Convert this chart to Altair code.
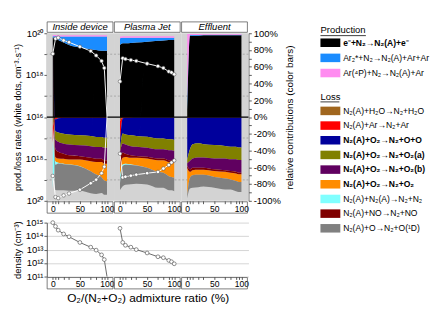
import altair as alt
import pandas as pd

FONT = "Liberation Sans"

# ---------------- data ----------------
PANELS = ["Inside device", "Plasma Jet", "Effluent"]
O2_RATIO = [0, 5, 10, 20, 30, 50, 70, 80, 90, 95, 100]

PROD_NAMES = ["e⁻+N₂→N₂(A)+e⁻", "Ar₂*+N₂→N₂(A)+Ar+Ar", "Ar(⁴P)+N₂→N₂(A)+Ar"]
PROD_COLORS = ["#000000", "#1a8cff", "#ff8cf0"]
PROD_BOLD = [True, False, False]

LOSS_NAMES = ["N₂(A)+H₂O→N₂+H₂O", "N₂(A)+Ar→N₂+Ar", "N₂(A)+O₂→N₂+O+O",
              "N₂(A)+O₂→N₂+O₂(a)", "N₂(A)+O₂→N₂+O₂(b)", "N₂(A)+O₂→N₂+O₂",
              "N₂(A)+N₂(A)→N₂+N₂", "N₂(A)+NO→N₂+NO", "N₂(A)+O→N₂+O(¹D)"]
LOSS_COLORS = ["#a0661e", "#ff0000", "#00009c", "#808000", "#600060",
               "#ff8c00", "#80ffff", "#800000", "#808080"]
LOSS_BOLD = [False, False, True, True, True, True, False, False, False]
# stacking order from 0 % downwards (indices into LOSS_NAMES)
LOSS_STACK = [0, 1, 2, 3, 4, 7, 5, 6, 8]

# relative contributions (%) to N2(A) production
PROD = {
    "Inside device": [
        [95, 94, 92, 89, 86, 83, 81, 80, 79, 79, 79],
        [1.5, 2.5, 4, 7, 10, 13, 15, 16, 17, 17, 17],
        [1.5, 1.5, 1.5, 1.5, 1.5, 1.5, 1.5, 1.5, 1.5, 1.5, 1.5],
    ],
    "Plasma Jet": [
        [86, 88, 88, 88.5, 89, 90, 91, 91.5, 92, 92, 92],
        [8, 6.5, 6.5, 6, 5.5, 4.5, 3.5, 3, 2.5, 2.5, 2.5],
        [2, 2, 2, 2, 2, 2, 2, 2, 2, 2, 2],
    ],
    "Effluent": [
        [8, 97, 97, 97, 97.5, 97.5, 97.5, 97.5, 97.5, 97.5, 97.5],
        [12, 1, 1, 1, 0.8, 0.8, 0.8, 0.8, 0.8, 0.8, 0.8],
        [79, 1, 1, 1, 0.8, 0.8, 0.8, 0.8, 0.8, 0.8, 0.8],
    ],
}
# relative contributions (%) to N2(A) loss (order as LOSS_NAMES)
LOSS = {
    "Inside device": [
        [12, 1, 0.5, 0.3, 0.2, 0.2, 0.2, 0.2, 0.2, 0.2, 0.2],
        [18, 2, 1, 0.5, 0.5, 0.5, 0.5, 0.5, 0.5, 0.5, 0.5],
        [0, 14, 17, 19, 20, 21, 22, 23, 23, 24, 24],
        [0, 10, 11, 12, 12, 12, 12, 12, 12, 12, 12],
        [0, 11, 12, 12, 13, 13, 14, 14, 14, 15, 15],
        [0, 5, 5, 6, 6, 8, 12, 15, 18, 20, 21],
        [55, 4, 1, 0.5, 0.3, 0.2, 0.1, 0, 0, 0, 0],
        [0, 10, 8, 6, 5, 4, 4, 4, 4, 4, 4],
        [0, 30, 32, 31, 31, 29, 26, 23, 19, 17, 16],
    ],
    "Plasma Jet": [
        [5, 0.5, 0.3, 0.2, 0.2, 0.2, 0.2, 0.2, 0.2, 0.2, 0.2],
        [25, 1, 0.5, 0.5, 0.3, 0.3, 0.3, 0.3, 0.3, 0.3, 0.3],
        [8, 18, 20, 21, 22, 23, 25, 25, 26, 26, 27],
        [4, 12, 12, 13, 13, 13, 13, 13, 13, 13, 13],
        [4, 11, 11, 11, 11, 11, 11, 11, 12, 12, 12],
        [10, 8, 8, 8, 9, 11, 14, 15, 17, 18, 18],
        [8, 2, 1, 0.5, 0.2, 0, 0, 0, 0, 0, 0],
        [15, 6, 4, 3, 2, 2, 2, 2, 2, 2, 2],
        [8, 24, 24, 23, 22, 20, 19, 18, 17, 16, 16],
    ],
    "Effluent": [
        [0.5, 0.2, 0.2, 0.2, 0.2, 0.2, 0.2, 0.2, 0.2, 0.2, 0.2],
        [0.5, 0.2, 0.2, 0.2, 0.2, 0.2, 0.2, 0.2, 0.2, 0.2, 0.2],
        [50, 38, 32, 31, 32, 33, 34, 35, 35, 36, 36],
        [4, 14, 17, 17, 16, 16, 15, 15, 15, 15, 15],
        [3, 10, 11, 12, 12, 13, 14, 14, 15, 15, 15],
        [32, 7, 6, 6, 6, 7, 8, 8, 9, 9, 9],
        [0, 0, 0, 0, 0, 0, 0, 0, 0, 0, 0],
        [3, 3, 3, 2.5, 2.5, 2, 2, 2, 2, 2, 2],
        [4, 13, 15, 15, 14, 13, 13, 12, 12, 12, 12],
    ],
}
# log10 of production / loss rates (cm^-3 s^-1); None = no N2(A) (rate 0)
PROD_RATE = {
    "Inside device": [19.02, 19.74, 19.79, 19.66, 19.57, 19.36, 19.15, 18.94, 18.68, 18.34, None],
    "Plasma Jet": [17.70, 18.81, 18.77, 18.72, 18.68, 18.55, 18.43, 18.34, 18.17, 18.13, 18.04],
}
LOSS_RATE = {
    "Inside device": [18.81, 19.82, 19.87, 19.74, 19.65, 19.47, 19.16, 18.99, 18.68, 18.37, None],
    "Plasma Jet": [17.75, 18.88, 18.85, 18.80, 18.75, 18.68, 18.62, 18.46, 18.29, 18.17, 18.07],
}
# log10 of N2(A) density (cm^-3)
DENSITY = {
    "Inside device": [15.0, 14.72, 14.44, 14.16, 13.95, 13.53, 13.18, 12.96, 12.61, 12.26, None],
    "Plasma Jet": [14.58, 13.53, 13.32, 13.18, 13.0, 12.75, 12.47, 12.40, 12.2, 12.1, 11.95],
}

# ---------------- tables ----------------
rows = []
for k, p in enumerate(PANELS):
    for i, name in enumerate(PROD_NAMES):
        for x, v in zip(O2_RATIO, PROD[p][i]):
            rows.append({"k": k, "x": x, "r": name, "ord": i, "v": v})
    for j, name in enumerate(LOSS_NAMES):
        for x, v in zip(O2_RATIO, LOSS[p][j]):
            rows.append({"k": k, "x": x, "r": name, "ord": 10 + LOSS_STACK.index(j), "v": -v})
df_area = pd.DataFrame(rows)

rows = []
for k, p in enumerate(PANELS):
    for kind, src in (("prod", PROD_RATE), ("loss", LOSS_RATE)):
        if p in src:
            for x, lg in zip(O2_RATIO, src[p]):
                rows.append({"k": k, "x": x, "kind": kind, "lg": lg})
df_rate = pd.DataFrame(rows)

rows = []
for k, p in enumerate(PANELS):
    if p in DENSITY:
        for x, lg in zip(O2_RATIO, DENSITY[p]):
            rows.append({"k": k, "x": x, "lg": lg})
df_dens = pd.DataFrame(rows)

df_panel = pd.DataFrame({"k": [0, 1, 2], "panel": PANELS})
df_grid = pd.DataFrame({"lg": [17, 19, 17, 19], "sign": [1, 1, -1, -1]})
df_zero = pd.DataFrame({"lg": [16]})

# ---------------- layout ----------------
W = 213
H_TOP = 177
H_DEN = 57
SPAN = 124   # x units per panel (-11 .. 113)
OFF = 11
GCALC = f"datum.k * {SPAN} + {OFF} + datum.x"

xscale = alt.Scale(domain=[0, 3 * SPAN], nice=False, zero=False)
yscale = alt.Scale(domain=[-100, 100], nice=False)

tick_vals = [k * SPAN + OFF + x for k in range(3) for x in O2_RATIO]
rel = f"((datum.value - {OFF}) % {SPAN})"
xlabel_expr = f"({rel} == 0 || {rel} == 50 || {rel} == 100) ? '' + {rel} : ''"


def xaxis(title=None):
    kw = dict(values=tick_vals, labelExpr=xlabel_expr, grid=False, domain=False,
              tickSize=3, tickColor="#555", labelFontSize=9, labelPadding=1,
              labelOverlap=False, labelFlush=False)
    if title:
        return alt.Axis(title=title, titleFontSize=12.5, titleFontWeight="normal",
                        titlePadding=3, **kw)
    return alt.Axis(title=None, **kw)


XA_TOP = xaxis()

left_axis = alt.Axis(
    title="prod./loss rates (white dots, cm⁻³·s⁻¹)",
    values=[-100, -75, -50, -25, 0, 25, 50, 75, 100],
    labelExpr="datum.value == 0 ? '10¹⁶' : abs(datum.value) == 50 ? '10¹⁸' : abs(datum.value) == 100 ? '10²⁰' : ''",
    grid=False, tickSize=3, labelFontSize=10, labelPadding=1, titleFontSize=9.5,
    titleFontWeight="normal", titlePadding=3, domainColor="#555", tickColor="#555",
    labelOverlap=False, orient="left")

right_axis = alt.Axis(
    title="relative contributions (color bars)",
    values=list(range(-100, 101, 10)),
    labelExpr="datum.value % 20 == 0 ? datum.value + '%' : ''",
    grid=False, tickSize=3, labelFontSize=10, labelPadding=2, titleFontSize=10.5,
    titleFontWeight="normal", titlePadding=5, domainColor="#555", tickColor="#555",
    labelOverlap=False, orient="right", titleAngle=270, titleBaseline="top")

bg = alt.Chart(df_panel).transform_calculate(
    a=f"datum.k * {SPAN}", b=f"(datum.k + 1) * {SPAN}", lo="-100", hi="100"
).mark_rect(color="#d3d3d3").encode(
    x=alt.X("a:Q", scale=xscale, axis=XA_TOP), x2="b:Q",
    y=alt.Y("lo:Q", scale=yscale, axis=None), y2="hi:Q")

grid = alt.Chart(df_grid).transform_calculate(
    gy="(datum.lg - 16) * 25 * datum.sign"
).mark_rule(color="#9a9a9a", strokeDash=[2, 2], strokeWidth=0.8).encode(
    y=alt.Y("gy:Q", scale=yscale, axis=None))

color_scale = alt.Scale(domain=PROD_NAMES + LOSS_NAMES, range=PROD_COLORS + LOSS_COLORS)


def area_layer(k):
    return alt.Chart(df_area).transform_filter(f"datum.k == {k}").transform_calculate(
        g=GCALC).mark_area(interpolate="monotone", strokeWidth=0).encode(
        x=alt.X("g:Q", scale=xscale, axis=XA_TOP),
        y=alt.Y("v:Q", stack="zero", scale=yscale, axis=right_axis if k == 2 else None),
        color=alt.Color("r:N", scale=color_scale, legend=None),
        order=alt.Order("ord:Q"))


areas = [area_layer(k) for k in range(3)]

zero = alt.Chart(df_zero).transform_calculate(zy="(datum.lg - 16) * 25").mark_rule(
    color="black", strokeWidth=1.3).encode(
    y=alt.Y("zy:Q", scale=yscale, axis=None))

rate_base = alt.Chart(df_rate).transform_calculate(
    g=GCALC,
    ser="datum.kind + datum.k",
    pos="(datum.lg == null ? 0 : (datum.lg - 16) * 25) * (datum.kind == 'prod' ? 1 : -1)")

lines = rate_base.mark_line(color="white", strokeWidth=1).encode(
    x=alt.X("g:Q", scale=xscale, axis=XA_TOP),
    y=alt.Y("pos:Q", scale=yscale, axis=left_axis),
    detail="ser:N")

dots = rate_base.transform_filter("isValid(datum.lg)").mark_circle(
    color="white", stroke="#555", strokeWidth=0.6, size=14, opacity=1).encode(
    x=alt.X("g:Q", scale=xscale, axis=XA_TOP),
    y=alt.Y("pos:Q", scale=yscale, axis=None))

panel_box = alt.Chart(df_panel).transform_calculate(
    a=f"datum.k * {SPAN} + 0.6", b=f"(datum.k + 1) * {SPAN} - 2",
    c=f"datum.k * {SPAN} + {SPAN / 2 - 0.7}")

head_rect = panel_box.mark_rect(fill="white", stroke="#555", strokeWidth=0.8).encode(
    x=alt.X("a:Q", scale=xscale, axis=XA_TOP), x2="b:Q",
    y=alt.value(-12), y2=alt.value(-1))
head_text = panel_box.mark_text(font=FONT, fontSize=10, fontStyle="italic", baseline="middle").encode(
    x=alt.X("c:Q", scale=xscale, axis=XA_TOP), y=alt.value(-6.2), text="panel:N")
foot_rect = panel_box.mark_rect(fillOpacity=0, stroke="#555", strokeWidth=0.8).encode(
    x=alt.X("a:Q", scale=xscale, axis=XA_TOP), x2="b:Q",
    y=alt.value(H_TOP + 1), y2=alt.value(H_TOP + 13))

top = alt.layer(bg, grid, *areas, zero, lines, dots, head_rect, head_text, foot_rect).resolve_axis(
    y="independent").properties(width=W, height=H_TOP)

# ---------------- density panel ----------------
XA_DEN = xaxis("O₂/(N₂+O₂) admixture ratio (%)")
dscale = alt.Scale(type="log", domain=[1e11, 1e15], nice=False)
dens_axis = alt.Axis(
    title="density (cm⁻³)", values=[1e11, 1e12, 1e13, 1e14, 1e15],
    labelExpr="datum.value > 5e14 ? '10¹⁵' : datum.value > 5e13 ? '10¹⁴' : datum.value > 5e12 ? '10¹³' : datum.value > 5e11 ? '10¹²' : '10¹¹'",
    grid=True, gridColor="#c8c8c8", gridWidth=0.8, tickSize=3, labelFontSize=10, labelPadding=1,
    titleFontSize=10, titleFontWeight="normal", titlePadding=3, domainColor="#555", tickColor="#555")

dens_base = alt.Chart(df_dens).transform_calculate(
    g=GCALC, d="datum.lg == null ? 1e11 : pow(10, datum.lg)")
dens_line = dens_base.mark_line(color="#555", strokeWidth=0.9).encode(
    x=alt.X("g:Q", scale=xscale, axis=XA_DEN),
    y=alt.Y("d:Q", scale=dscale, axis=dens_axis),
    detail="k:N")
dens_pts = dens_base.transform_filter("isValid(datum.lg)").mark_point(
    shape="circle", filled=True, color="white", stroke="#555", strokeWidth=0.7, size=16, opacity=1).encode(
    x=alt.X("g:Q", scale=xscale, axis=XA_DEN),
    y=alt.Y("d:Q", scale=dscale, axis=dens_axis))
dens_foot = panel_box.mark_rect(fillOpacity=0, stroke="#555", strokeWidth=0.8).encode(
    x=alt.X("a:Q", scale=xscale, axis=XA_DEN), x2="b:Q",
    y=alt.value(H_DEN + 1), y2=alt.value(H_DEN + 13))

dens = alt.layer(dens_line, dens_pts, dens_foot).properties(width=W, height=H_DEN)

# ---------------- custom legend ----------------
LEG_W, LEG_H = 116, 215
leg_rows = []
for i, (n, c, b) in enumerate(zip(PROD_NAMES, PROD_COLORS, PROD_BOLD)):
    leg_rows.append({"name": n, "color": c, "bold": b, "yc": 10 + 16 * i})
for j, (n, c, b) in enumerate(zip(LOSS_NAMES, LOSS_COLORS, LOSS_BOLD)):
    leg_rows.append({"name": n, "color": c, "bold": b, "yc": 82 + 15.5 * j})
df_leg = pd.DataFrame(leg_rows)
df_head = pd.DataFrame({"name": ["Production", "Loss"], "yc": [-3, 67], "w": [48, 20]})

lx = alt.Scale(domain=[0, LEG_W], nice=False)
ly = alt.Scale(domain=[0, LEG_H], nice=False, reverse=True)

leg_base = alt.Chart(df_leg).transform_calculate(
    y0="datum.yc - 4.5", y1="datum.yc + 4.5", x0="0", x1="21", tx="24")
swatch = leg_base.mark_rect().encode(
    x=alt.X("x0:Q", scale=lx, axis=None), x2="x1:Q",
    y=alt.Y("y0:Q", scale=ly, axis=None), y2="y1:Q",
    color=alt.Color("color:N", scale=None, legend=None))
txt_norm = leg_base.transform_filter("!datum.bold").mark_text(
    font=FONT, fontSize=9, align="left", baseline="middle").encode(
    x=alt.X("tx:Q", scale=lx, axis=None), y=alt.Y("yc:Q", scale=ly, axis=None), text="name:N")
txt_bold = leg_base.transform_filter("datum.bold").mark_text(
    font=FONT, fontSize=9, fontWeight="bold", align="left", baseline="middle").encode(
    x=alt.X("tx:Q", scale=lx, axis=None), y=alt.Y("yc:Q", scale=ly, axis=None), text="name:N")
head_base = alt.Chart(df_head).transform_calculate(x0="0", yl="datum.yc + 5.5")
head_txt = head_base.mark_text(font=FONT, fontSize=10, align="left", baseline="middle").encode(
    x=alt.X("x0:Q", scale=lx, axis=None), y=alt.Y("yc:Q", scale=ly, axis=None), text="name:N")
head_line = head_base.mark_rule(color="black", strokeWidth=0.8).encode(
    x=alt.X("x0:Q", scale=lx, axis=None), x2="w:Q",
    y=alt.Y("yl:Q", scale=ly, axis=None))

legend = alt.layer(swatch, txt_norm, txt_bold, head_txt, head_line).properties(
    width=LEG_W, height=LEG_H)

chart = alt.hconcat(alt.vconcat(top, dens, spacing=4), legend, spacing=25).configure(
    font=FONT).configure_axis(labelFont=FONT, titleFont=FONT, labelColor="black",
                              titleColor="black").configure_view(stroke=None)

chart.save("out.html", embed_options={"renderer": "svg", "actions": False})
